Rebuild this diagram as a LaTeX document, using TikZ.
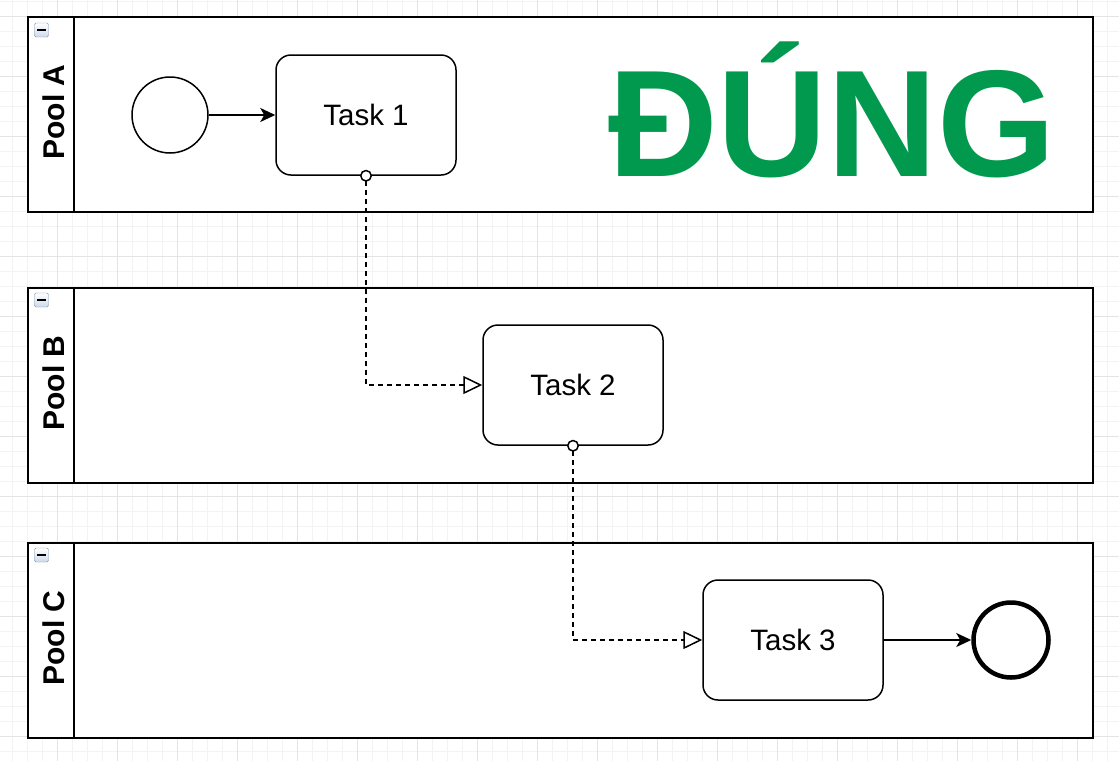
\documentclass[tikz,border=0pt]{standalone}
\usepackage{fontspec}
\setmainfont{Liberation Sans}
\usetikzlibrary{arrows.meta}
\definecolor{okgreen}{RGB}{0,153,77}
\definecolor{gridmajor}{RGB}{228,228,228}
\definecolor{gridminor}{RGB}{243,243,243}
\definecolor{iconfill}{RGB}{205,218,235}
\definecolor{icondraw}{RGB}{130,150,180}

\begin{document}
\begin{tikzpicture}[x=1pt,y=-1pt]
  \tikzstyle{pool}=[draw, line width=2pt, minimum width=1065pt, minimum height=195pt, inner sep=0pt]
  \tikzstyle{poollabel}=[rotate=90, font=\fontsize{30}{30}\selectfont\bfseries, inner sep=0pt]
  \tikzstyle{collapse}=[draw=icondraw, top color=white, bottom color=iconfill, minimum size=14pt, inner sep=0pt, rounded corners=1.5pt]
  \tikzstyle{task}=[draw, line width=1.5pt, rounded corners=15pt, minimum width=180pt, minimum height=120pt, font=\fontsize{29.5}{29.5}\selectfont]
  \tikzstyle{startev}=[circle, draw, line width=1.5pt, minimum size=76pt, inner sep=0pt]
  \tikzstyle{endev}=[circle, draw, line width=4.5pt, minimum size=75pt, inner sep=0pt]
  \tikzstyle{seqflow}=[line width=1.5pt, -{Stealth[length=15pt, width=14pt, inset=4pt]}]
  \tikzstyle{msgflow}=[line width=1.5pt, dash pattern=on 4.5pt off 4.5pt, shorten <=-6pt,
    {Circle[length=12pt, fill=white, line width=1.5pt]}-{Triangle[length=19pt, width=18pt, fill=white, line width=1.5pt]}]

  % background and grid
  \fill[white] (0,0) rectangle (1119,761);
  \useasboundingbox (0,0) rectangle (1119,761);
  \foreach \x in {12.5,27.5,...,1119} \draw[gridminor, line width=1pt] (\x,0) -- (\x,761);
  \foreach \y in {1,16,...,761} \draw[gridminor, line width=1pt] (0,\y) -- (1119,\y);
  \foreach \x in {57.5,117.5,...,1119} \draw[gridmajor, line width=1pt] (\x,0) -- (\x,761);
  \foreach \y in {16,76,...,761} \draw[gridmajor, line width=1pt] (0,\y) -- (1119,\y);

  % pools
  \node[pool, fill=white] (poolA) at (560.5,114.5) {};
  \node[pool, fill=white] (poolB) at (560.5,385) {};
  \node[pool, fill=white] (poolC) at (560.5,640) {};
  \draw[line width=1.5pt] ([xshift=47pt]poolA.north west) -- ([xshift=47pt]poolA.south west);
  \draw[line width=1.5pt] ([xshift=47pt]poolB.north west) -- ([xshift=47pt]poolB.south west);
  \draw[line width=1.5pt] ([xshift=47pt]poolC.north west) -- ([xshift=47pt]poolC.south west);
  \node[poollabel] (labA) at (54,112) {Pool A};
  \node[poollabel] (labB) at (54,383) {Pool B};
  \node[poollabel] (labC) at (54,638) {Pool C};
  \node[collapse] (iconA) at (41.5,30) {};
  \node[collapse] (iconB) at (41.5,300) {};
  \node[collapse] (iconC) at (41.5,555) {};
  \foreach \i in {iconA,iconB,iconC}
    \draw[line width=2pt] ([xshift=-4.5pt]\i.center) -- ([xshift=4.5pt]\i.center);

  % events and tasks
  \node[startev] (start) at (170,115) {};
  \node[task] (task1) at (366,115) {Task 1};
  \node[task] (task2) at (573,385) {Task 2};
  \node[task] (task3) at (793,640) {Task 3};
  \node[endev] (end) at (1011,640) {};

  \node[text=okgreen, anchor=base, inner sep=0pt, font=\fontsize{152}{152}\selectfont\bfseries] (verdict) at (832,176) {ĐÚNG};

  % flows
  \draw[seqflow] (start) -- (task1);
  \draw[msgflow] (task1.south) |- (task2.west);
  \draw[msgflow] (task2.south) |- (task3.west);
  \draw[seqflow] (task3) -- (end);
\end{tikzpicture}
\end{document}
